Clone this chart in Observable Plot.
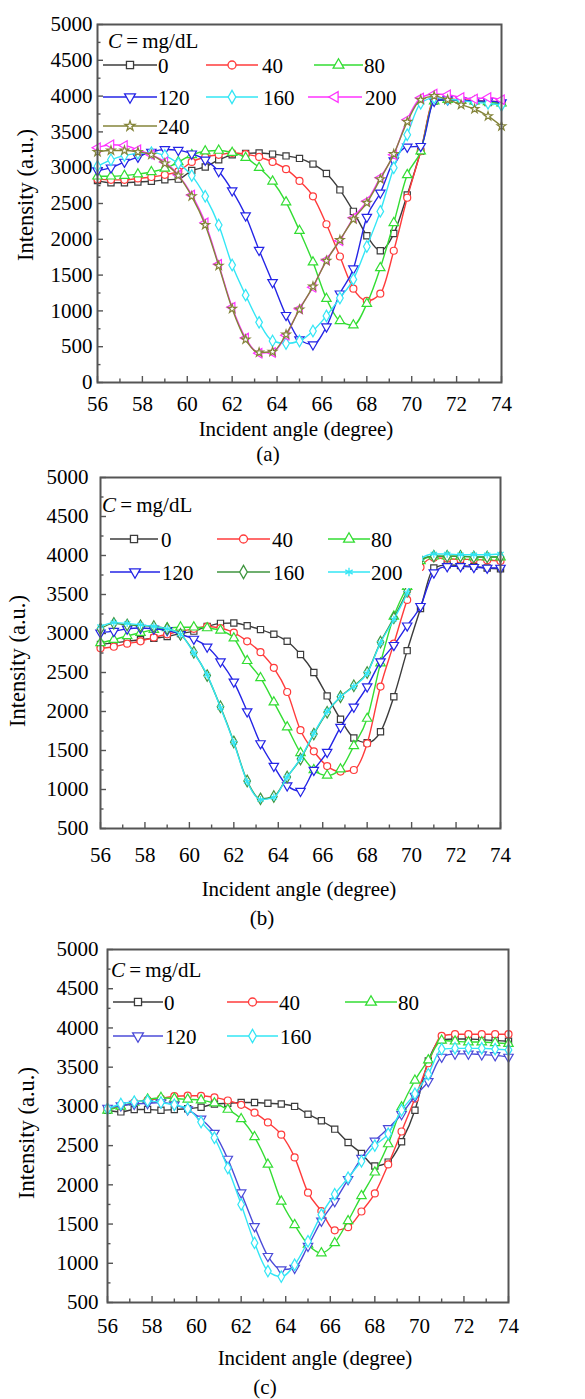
<!DOCTYPE html>
<html><head><meta charset="utf-8">
<script src="https://cdn.jsdelivr.net/npm/d3@7"></script>
<script src="https://cdn.jsdelivr.net/npm/@observablehq/plot@0.6"></script>
<style>
html,body{margin:0;padding:0;background:#fff;}
#wrap{position:relative;width:585px;height:1399px;overflow:hidden;background:#fff;}
#wrap svg{position:absolute;left:0;}
</style></head>
<body><div id="wrap"></div>
<script>
// ---------- data ----------
const angles = [56.0,56.6,57.2,57.8,58.4,59.0,59.6,60.2,60.8,61.4,62.0,62.6,63.2,63.8,64.4,65.0,65.6,66.2,66.8,67.4,68.0,68.6,69.2,69.8,70.4,71.0,71.6,72.2,72.8,73.4,74.0];

const xMajorTicks = [56,58,60,62,64,66,68,70,72,74];
const xMinorTicks = [57,59,61,63,65,67,69,71,73];
const yMajorA = [0,500,1000,1500,2000,2500,3000,3500,4000,4500,5000];
const yMinorA = [250,750,1250,1750,2250,2750,3250,3750,4250,4750];
const yMajorBC = [500,1000,1500,2000,2500,3000,3500,4000,4500,5000];
const yMinorBC = [750,1250,1750,2250,2750,3250,3750,4250,4750];

// panel (a)
const a0   = [2820,2790,2790,2800,2810,2830,2840,2960,3010,3110,3180,3200,3205,3190,3165,3130,3050,2920,2690,2390,2050,1840,2080,2620,3230,3930,3950,3940,3930,3910,3900];
const a40  = [2840,2830,2830,2850,2870,2900,2950,3080,3150,3180,3205,3190,3150,3080,2980,2815,2600,2210,1760,1310,1140,1240,1840,2580,3230,3950,3960,3950,3940,3930,3920];
const a80  = [2880,2880,2890,2910,2940,2990,3080,3180,3230,3240,3210,3140,3000,2810,2520,2120,1680,1170,860,800,1100,1600,2230,2900,3230,3930,3950,3940,3930,3920,3900];
const a120 = [2960,3000,3080,3150,3220,3255,3245,3195,3110,2950,2680,2330,1850,1400,940,600,530,780,1240,1590,2310,2650,3100,3290,3300,3930,3950,3940,3930,3930,3910];
const a160 = [3020,3110,3170,3200,3210,3170,3060,2890,2600,2200,1640,1220,840,580,545,580,720,930,1180,1440,1900,2390,3000,3460,3900,3975,3960,3940,3910,3900,3870];
const a200 = [3280,3320,3310,3250,3180,3080,2900,2620,2230,1650,1050,620,410,420,660,1030,1330,1710,1980,2300,2530,2860,3180,3670,3975,4030,4020,3980,3960,3980,3950];
const a240 = [3220,3240,3240,3220,3180,3060,2890,2600,2200,1630,1030,600,420,430,670,1020,1340,1700,1990,2280,2510,2840,3190,3640,3950,4000,3950,3880,3820,3720,3580];

// panel (b)
const b0   = [2860,2880,2900,2920,2940,2960,3000,3030,3090,3130,3135,3100,3050,2990,2900,2730,2500,2200,1900,1660,1600,1740,2190,2780,3320,3840,3880,3870,3860,3840,3830];
const b40  = [2810,2830,2870,2900,2950,2990,3030,3060,3090,3070,3010,2900,2760,2560,2250,1760,1490,1300,1230,1250,1590,2320,2870,3430,3850,3970,3960,3950,3950,3940,3930];
const b80  = [2880,2920,2970,3010,3050,3070,3080,3080,3070,3040,2940,2650,2430,2120,1800,1470,1250,1180,1260,1560,1910,2620,3220,3600,3930,3990,3990,3990,3980,3980,3980];
const b120 = [3010,3030,3060,3070,3060,3040,2990,2930,2830,2640,2380,2000,1590,1300,1050,980,1250,1480,1800,2060,2320,2640,2850,3100,3350,3780,3860,3860,3850,3840,3840];
const b160 = [3060,3130,3110,3100,3090,3060,2990,2760,2460,2060,1610,1110,880,910,1160,1390,1710,1990,2190,2330,2500,2890,3200,3540,3950,3990,3990,3990,3980,3980,3980];
const b200 = [3090,3140,3130,3110,3090,3060,2990,2750,2470,2050,1600,1100,870,900,1160,1400,1720,2000,2190,2320,2490,2880,3180,3520,3960,4020,4020,4010,4010,4010,4020];

// panel (c)
const c0   = [2950,2930,2960,2960,2950,2960,2970,2990,3030,3040,3050,3050,3040,3030,3000,2900,2816,2710,2540,2400,2240,2290,2550,2950,3580,3850,3860,3860,3850,3840,3830];
const c40  = [2966,3000,3050,3080,3100,3130,3136,3135,3115,3075,3020,2920,2795,2640,2350,1900,1665,1420,1460,1660,1890,2260,2680,3100,3550,3900,3920,3920,3920,3920,3920];
const c80  = [2950,3000,3050,3090,3110,3100,3090,3080,3040,2960,2840,2610,2260,1790,1490,1240,1130,1260,1540,1860,2160,2520,2990,3330,3590,3840,3830,3820,3820,3810,3800];
const c120 = [2980,3010,3030,3040,3050,3020,2960,2840,2660,2330,1900,1470,1090,920,940,1220,1540,1790,2070,2340,2560,2720,2900,3130,3320,3630,3670,3670,3660,3650,3630];
const c160 = [2970,3030,3060,3070,3050,3020,2970,2800,2600,2215,1750,1260,900,830,980,1280,1620,1880,2090,2300,2500,2650,2950,3160,3410,3730,3740,3740,3740,3730,3720];

// ---------- styling ----------
const FONT = '"Liberation Serif","Times New Roman",serif';
const frameColor = "#555";
const s3 = Math.sqrt(3);
const symTriDown = {draw(ctx, size){ const y = -Math.sqrt(size/(s3*3)); ctx.moveTo(0,-2*y); ctx.lineTo(-s3*y,y); ctx.lineTo(s3*y,y); ctx.closePath(); }};
const symTriLeft = {draw(ctx, size){ const y = -Math.sqrt(size/(s3*3)); ctx.moveTo(2*y,0); ctx.lineTo(-y,s3*y); ctx.lineTo(-y,-s3*y); ctx.closePath(); }};
const symStarSmall = {draw(ctx, size){ d3.symbolStar.draw(ctx, size * 0.6); }};

const C = {black:"#3c3c3c", red:"#ff3b3b", green:"#33dd33", blue:"#2424e6", cyan:"#33e6f5", magenta:"#ff33ff", olive:"#84843a", dkgreen:"#3f953f", violet:"#4b4bd8"};

const seriesA = [
  {label:"0", values:a0, color:C.black, symbol:d3.symbolSquare},
  {label:"40", values:a40, color:C.red, symbol:d3.symbolCircle},
  {label:"80", values:a80, color:C.green, symbol:d3.symbolTriangle},
  {label:"120", values:a120, color:C.blue, symbol:symTriDown},
  {label:"160", values:a160, color:C.cyan, symbol:d3.symbolDiamond},
  {label:"200", values:a200, color:C.magenta, symbol:symTriLeft},
  {label:"240", values:a240, color:C.olive, symbol:symStarSmall}
];
const seriesB = [
  {label:"0", values:b0, color:C.black, symbol:d3.symbolSquare},
  {label:"40", values:b40, color:C.red, symbol:d3.symbolCircle},
  {label:"80", values:b80, color:C.green, symbol:d3.symbolTriangle},
  {label:"120", values:b120, color:C.blue, symbol:symTriDown},
  {label:"160", values:b160, color:C.dkgreen, symbol:d3.symbolDiamond},
  {label:"200", values:b200, color:C.cyan, symbol:d3.symbolAsterisk}
];
const seriesC = [
  {label:"0", values:c0, color:C.black, symbol:d3.symbolSquare},
  {label:"40", values:c40, color:C.red, symbol:d3.symbolCircle},
  {label:"80", values:c80, color:C.green, symbol:d3.symbolTriangle},
  {label:"120", values:c120, color:C.violet, symbol:symTriDown},
  {label:"160", values:c160, color:C.cyan, symbol:d3.symbolDiamond}
];

const wrap = document.getElementById("wrap");
const W = 585;
const R = 3.5;

function makePanel(p) {
  const innerW = W - p.ml - p.mr, innerH = p.height - p.mt - p.mb;
  const tk = {stroke: frameColor, strokeWidth: 1.4};
  const marks = [
    Plot.tickX(xMinorTicks, {x: d => d, insetTop: innerH - 3.5, ...tk}),
    Plot.tickX(xMajorTicks, {x: d => d, insetTop: innerH - 6, ...tk}),
    Plot.tickY(p.yMinor, {y: d => d, insetRight: innerW - 3.5, ...tk}),
    Plot.tickY(p.yMajor, {y: d => d, insetRight: innerW - 6, ...tk}),
    Plot.axisX({ticks: xMajorTicks, tickSize: 0, tickPadding: p.xPad, tickFormat: d => String(d), label: null}),
    Plot.axisY({ticks: p.yMajor, tickSize: 0, tickPadding: p.yPad, tickFormat: d => String(d), label: null})
  ];
  for (const s of p.series) {
    const rows = angles.map((a, i) => ({a, v: s.values[i]}));
    marks.push(Plot.line(rows, {x: "a", y: "v", stroke: s.color, strokeWidth: 1.4, curve: "monotone-x", clip: true}));
    marks.push(Plot.dot(rows, {x: "a", y: "v", symbol: s.symbol, r: R, stroke: s.color, fill: "white", strokeWidth: 1.2}));
  }
  marks.push(Plot.frame({stroke: frameColor, strokeWidth: 2}));
  const svg = Plot.plot({
    width: W, height: p.height,
    marginLeft: p.ml, marginRight: p.mr, marginTop: p.mt, marginBottom: p.mb,
    x: {domain: [56, 74]}, y: {domain: p.yDomain},
    style: `font-family:${FONT};font-size:21px;background:transparent;color:black;`,
    marks
  });
  svg.style.top = p.top + "px";
  svg.style.position = "absolute";
  svg.style.left = "0px";
  wrap.appendChild(svg);
}

makePanel({top: 0, height: 440, ml: 97, mr: 84, mt: 24, mb: 58, yDomain: [0, 5000], yMajor: yMajorA, yMinor: yMinorA, xPad: 14, yPad: 5, series: seriesA});
makePanel({top: 460, height: 440, ml: 100, mr: 85, mt: 17, mb: 72, yDomain: [500, 5000], yMajor: yMajorBC, yMinor: yMinorBC, xPad: 19, yPad: 12, series: seriesB});
makePanel({top: 930, height: 469, ml: 107, mr: 77, mt: 19, mb: 97, yDomain: [500, 5000], yMajor: yMajorBC, yMinor: yMinorBC, xPad: 16, yPad: 9, series: seriesC});

// ---------- overlay: legends, axis titles, captions ----------
const ov = d3.create("svg").attr("width", W).attr("height", 1399)
  .style("top", "0px").style("font-family", FONT).style("font-size", "21px");

function legend(series, lay) {
  for (const b of lay.boxes || []) {
    ov.append("rect").attr("x", b[0]).attr("y", b[1]).attr("width", b[2]).attr("height", b[3]).attr("fill", "white");
  }
  const t = ov.append("text").attr("x", lay.title[0]).attr("y", lay.title[1]).attr("fill", "black");
  t.append("tspan").attr("font-style", "italic").text("C");
  t.append("tspan").text("\u2009=\u2009mg/dL");
  series.forEach((s, i) => {
    const e = lay.entries[i];
    ov.append("line").attr("x1", e[0]).attr("x2", e[1]).attr("y1", e[2]).attr("y2", e[2])
      .attr("stroke", s.color).attr("stroke-width", 1.5);
    ov.append("path").attr("d", d3.symbol().type(s.symbol).size(Math.PI * 4 * 4)())
      .attr("transform", `translate(${(e[0] + e[1]) / 2},${e[2]})`)
      .attr("fill", "white").attr("stroke", s.color).attr("stroke-width", 1.3);
    ov.append("text").attr("x", e[3]).attr("y", e[2] + 7.5).attr("fill", "black").text(s.label);
  });
}

legend(seriesA, {title: [108, 48], entries: [
  [103, 157, 65, 158], [206, 258, 65, 262], [314, 363, 65, 364],
  [103, 157, 97, 158], [206, 258, 97, 263], [308, 362, 97, 365],
  [103, 157, 126, 158]]});
legend(seriesB, {title: [102, 512], boxes: [[322, 522, 100, 66]], entries: [
  [110, 158, 539, 161], [217, 270, 539, 272], [328, 370, 539, 371],
  [110, 160, 572, 162], [217, 270, 572, 273], [328, 370, 572, 371]]});
legend(seriesC, {title: [111, 977], entries: [
  [113, 163, 1002, 164], [227, 278, 1002, 279], [345, 397, 1002, 398],
  [113, 163, 1036, 165], [227, 278, 1036, 280]]});

function centered(x, y, txt, rot) {
  const t = ov.append("text").attr("text-anchor", "middle").attr("fill", "black").text(txt);
  if (rot) t.attr("transform", `translate(${x},${y}) rotate(-90)`).attr("dy", "0.35em").style("font-size", "22.5px");
  else t.attr("x", x).attr("y", y).attr("dy", "0.35em");
}
centered(25, 195, "Intensity (a.u.)", true);
centered(17, 661, "Intensity (a.u.)", true);
centered(26, 1133, "Intensity (a.u.)", true);
centered(296, 429, "Incident angle (degree)");
centered(299, 889, "Incident angle (degree)");
centered(315, 1358, "Incident angle (degree)");
centered(268, 454, "(a)");
centered(262, 918, "(b)");
centered(265, 1387, "(c)");

wrap.appendChild(ov.node());
</script>
</body></html>
